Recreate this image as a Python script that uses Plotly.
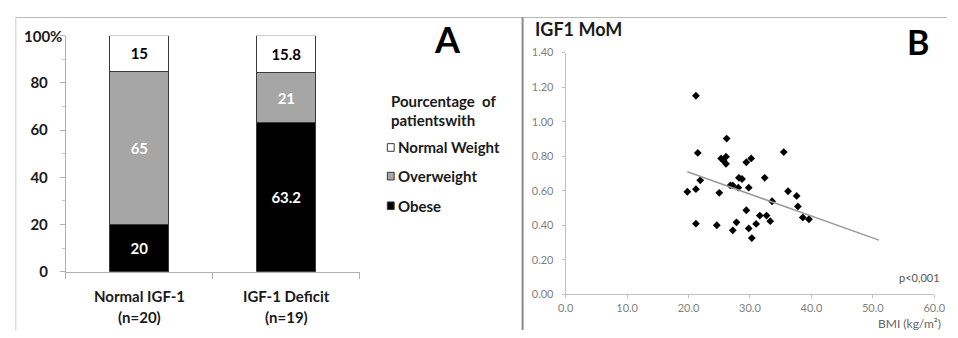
import plotly.graph_objects as go

# ---------------- Panel A data ----------------
groups = ["Normal IGF-1", "IGF-1 Deficit"]
group_n = ["(n=20)", "(n=19)"]
obese = [20, 63.2]
overweight = [65, 21]
normal_weight = [15, 15.8]
a_tickvals = [0, 20, 40, 60, 80, 100]
a_ticktext = ["0", "20", "40", "60", "80", ""]

# ---------------- Panel B data ----------------
bmi = [21.2, 26.2, 21.5, 35.5, 25.3, 26.1, 25.7, 26.1, 29.4, 30.2,
       21.9, 19.8, 21.2, 25.0, 26.8, 27.2, 28.1, 28.2, 28.7, 29.8,
       32.4, 33.6, 36.2, 37.6, 37.8, 38.6, 39.6, 29.4, 31.6, 32.7,
       33.3, 21.2, 24.6, 27.8, 31.0, 27.2, 29.8, 30.3]
igf1_mom = [1.150, 0.902, 0.819, 0.824, 0.787, 0.797, 0.773, 0.756, 0.765, 0.787,
            0.660, 0.594, 0.609, 0.588, 0.631, 0.631, 0.618, 0.675, 0.668, 0.618,
            0.675, 0.539, 0.597, 0.570, 0.509, 0.445, 0.435, 0.487, 0.456, 0.456,
            0.424, 0.409, 0.400, 0.417, 0.408, 0.371, 0.382, 0.326]
trend_x = [19.8, 51.0]
trend_y = [0.710, 0.314]
b_xticks = [0, 10, 20, 30, 40, 50, 60]
b_yticks = [0.0, 0.2, 0.4, 0.6, 0.8, 1.0, 1.2, 1.4]

FONT = "Lato"
W, H = 958, 338
BAR_LINE = dict(color="#3a3a3a", width=1)

fig = go.Figure()

fig.add_trace(go.Bar(
    x=groups, y=obese, name="Obese", xaxis="x", yaxis="y",
    marker=dict(color="#000000", line=BAR_LINE), width=0.4,
    text=[f"{v:g}" for v in obese], textposition="inside", insidetextanchor="middle",
    textfont=dict(color="white", size=15, family=FONT, weight="bold"),
    constraintext="none", textangle=0, showlegend=False))
fig.add_trace(go.Bar(
    x=groups, y=overweight, name="Overweight", xaxis="x", yaxis="y",
    marker=dict(color="#a6a6a6", line=BAR_LINE), width=0.4,
    text=[f"{v:g}" for v in overweight], textposition="inside", insidetextanchor="middle",
    textfont=dict(color="white", size=15, family=FONT, weight="bold"),
    constraintext="none", textangle=0, showlegend=False))
fig.add_trace(go.Bar(
    x=groups, y=normal_weight, name="Normal Weight", xaxis="x", yaxis="y",
    marker=dict(color="#ffffff", line=BAR_LINE), width=0.4,
    text=[f"{v:g}" for v in normal_weight], textposition="inside", insidetextanchor="middle",
    textfont=dict(color="black", size=15, family=FONT, weight="bold"),
    constraintext="none", textangle=0, showlegend=False))

fig.add_trace(go.Scatter(
    x=bmi, y=igf1_mom, mode="markers", xaxis="x2", yaxis="y2",
    marker=dict(symbol="diamond", size=6, color="black"), showlegend=False))
fig.add_trace(go.Scatter(
    x=trend_x, y=trend_y, mode="lines", xaxis="x2", yaxis="y2",
    line=dict(color="#9a9a9a", width=1.5), showlegend=False))

def px_x(p):
    return p / W

def px_y(p):
    return 1 - p / H

fig.update_layout(
    autosize=True, margin=dict(l=0, r=0, t=0, b=0),
    paper_bgcolor="white", plot_bgcolor="white",
    barmode="stack", bargap=0.6,
    font=dict(family=FONT, color="#222"),
    xaxis=dict(domain=[px_x(59), px_x(359)], type="category",
               showline=True, linecolor="#b0b0b0", linewidth=1,
               ticks="outside", ticklen=6, tickcolor="#b0b0b0", tickson="boundaries",
               showticklabels=False,
               showgrid=False, anchor="y", fixedrange=True),
    yaxis=dict(domain=[px_y(277), px_y(30)], range=[0, 100],
               tickvals=a_tickvals, ticktext=a_ticktext,
               showline=True, linecolor="#b0b0b0", linewidth=1,
               ticks="outside", ticklen=5, tickcolor="#b0b0b0",
               minor=dict(dtick=10, ticks="outside", ticklen=3, tickcolor="#c8c8c8"),
               ticklabelstandoff=9,
               tickfont=dict(size=15, family=FONT, color="#1a1a1a", weight="bold"),
               showgrid=False, zeroline=False, anchor="x"),
    xaxis2=dict(domain=[px_x(569), px_x(945)], range=[0, 60], tickvals=b_xticks,
                tickformat=".1f",
                showline=True, linecolor="#c0c0c0", linewidth=1,
                ticks="outside", ticklen=3, tickcolor="#c0c0c0",
                tickfont=dict(size=11, family=FONT, color="#808080"),
                showgrid=False, zeroline=False, anchor="y2"),
    yaxis2=dict(domain=[px_y(300.7), px_y(47.7)], range=[0, 1.4], tickvals=b_yticks,
                tickformat=".2f",
                showline=True, linecolor="#c0c0c0", linewidth=1,
                ticks="outside", ticklen=3, tickcolor="#c0c0c0",
                ticklabelstandoff=6,
                tickfont=dict(size=11, family=FONT, color="#808080"),
                showgrid=False, zeroline=False, anchor="x2"),
)

# panel frames
fig.add_shape(type="line", xref="paper", yref="paper", x0=px_x(8), x1=1, y0=px_y(11), y1=px_y(11),
              line=dict(color="#b8b8b8", width=1))
fig.add_shape(type="line", xref="paper", yref="paper", x0=px_x(8), x1=px_x(8), y0=0, y1=px_y(11),
              line=dict(color="#c8c8c8", width=1))
fig.add_shape(type="line", xref="paper", yref="paper", x0=px_x(525), x1=px_x(525), y0=0, y1=px_y(11),
              line=dict(color="#8a8a8a", width=2))

ann = []
for g, n in zip(groups, group_n):
    ann.append(dict(text=g, x=g, xref="x", y=px_y(302), yref="paper", xanchor="center", yanchor="middle",
                    font=dict(size=15, family=FONT, color="#1a1a1a", weight="bold")))
    ann.append(dict(text=n, x=g, xref="x", y=px_y(324), yref="paper", xanchor="center", yanchor="middle",
                    font=dict(size=15, family=FONT, color="#1a1a1a", weight="bold")))
ann.append(dict(text="100%", x=px_x(57), y=px_y(30), xanchor="right", yanchor="middle",
                font=dict(size=15, family=FONT, color="#1a1a1a", weight="bold")))
ann.append(dict(text="A", x=px_x(448), y=px_y(34), xanchor="center", yanchor="middle",
                font=dict(size=36, family=FONT, color="black", weight="bold")))
ann.append(dict(text="B", x=px_x(928), y=px_y(36), xanchor="center", yanchor="middle",
                font=dict(size=34, family=FONT, color="black", weight="bold")))
ann.append(dict(text="Pourcentage&nbsp;&nbsp;of", x=px_x(389), y=px_y(98), xanchor="left", yanchor="middle",
                font=dict(size=15, family=FONT, color="#1a1a1a", weight="bold")))
ann.append(dict(text="patientswith", x=px_x(389), y=px_y(118), xanchor="left", yanchor="middle",
                font=dict(size=15, family=FONT, color="#1a1a1a", weight="bold")))
legend_items = [("Normal Weight", "#ffffff", 147), ("Overweight", "#a6a6a6", 177), ("Obese", "#000000", 208)]
for label, col, yc in legend_items:
    ann.append(dict(text=label, x=px_x(396), y=px_y(yc), xanchor="left", yanchor="middle",
                    font=dict(size=15, family=FONT, color="#1a1a1a", weight="bold")))
    fig.add_shape(type="rect", xref="paper", yref="paper",
                  x0=px_x(387), x1=px_x(394), y0=px_y(yc + 4), y1=px_y(yc - 4),
                  fillcolor=col, line=dict(color="#3a3a3a", width=1))
ann.append(dict(text="IGF1 MoM", x=px_x(536), y=px_y(23), xanchor="left", yanchor="middle",
                font=dict(size=18, family=FONT, color="#1a1a1a", weight="bold")))
ann.append(dict(text="p<0,001", x=px_x(953), y=px_y(283), xanchor="right", yanchor="middle",
                font=dict(size=11, family=FONT, color="#555")))
ann.append(dict(text="BMI (kg/m²)", x=px_x(954), y=px_y(331), xanchor="right", yanchor="middle",
                font=dict(size=12, family=FONT, color="#666")))
for a in ann:
    a.setdefault("xref", "paper")
    a.setdefault("yref", "paper")
    a["showarrow"] = False
fig.update_layout(annotations=ann)

fig.write_html("out.html", default_width="100vw", default_height="100vh",
               config={"displayModeBar": False, "responsive": True},
               post_script="document.body.style.margin='0';document.body.style.overflow='hidden';")
